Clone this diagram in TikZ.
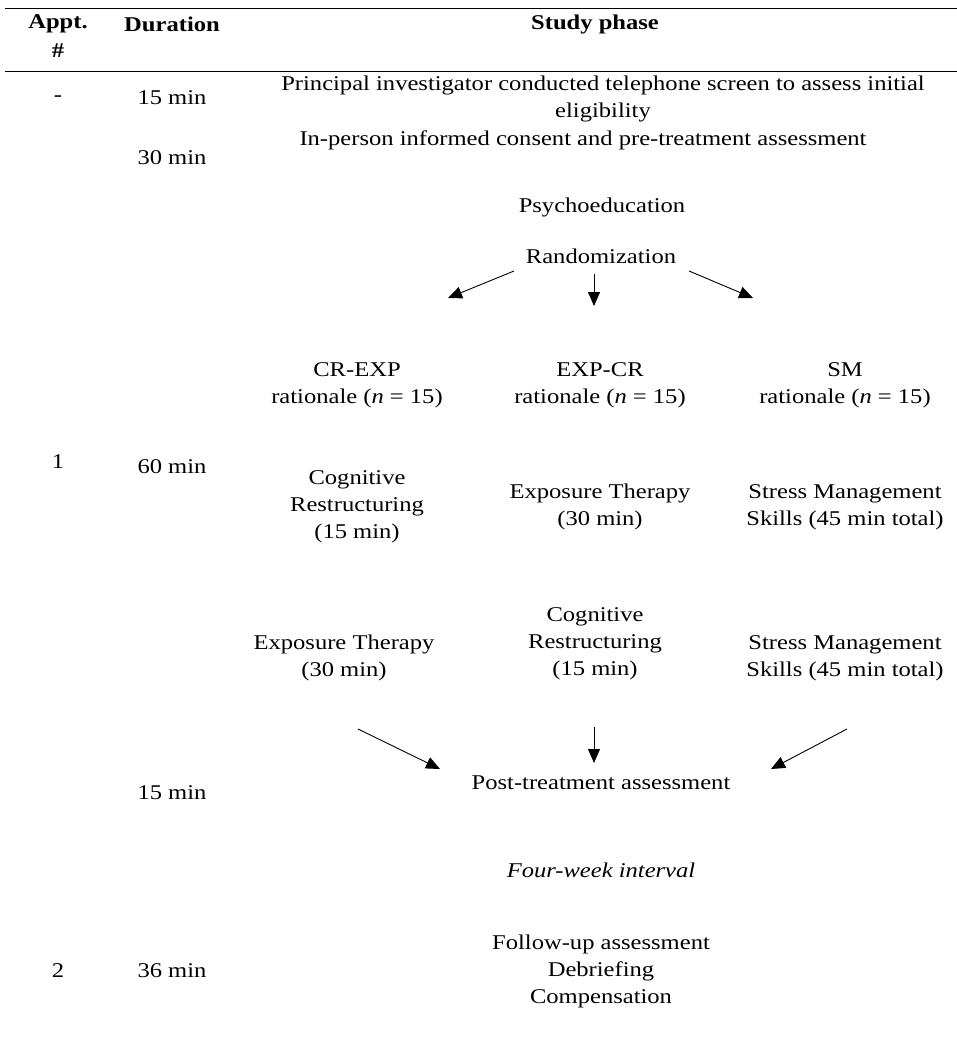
\documentclass[tikz,border=0pt]{standalone}
\usepackage{fontspec}
\setmainfont{Liberation Serif}[FakeStretch=1.17]
\usetikzlibrary{arrows.meta}
\begin{document}
\begin{tikzpicture}[x=1pt,y=-1pt,
  txt/.style={inner sep=0pt,font=\fontsize{21}{27}\selectfont,align=center},
  hd/.style={txt,font=\fontsize{21}{27}\selectfont\bfseries},
  arr/.style={line width=0.9pt,-{Triangle[length=14pt,width=12pt]}},
  rule/.style={line width=0.9pt}]
\useasboundingbox (0,0) rectangle (957,1040);
\draw[rule] (5,8) -- (957,8);
\draw[rule] (5,71) -- (957,71);
\node[hd] (h1) at (58,24) {Appt.};
\node[hd] (h1b) at (58,51) {\#};
\node[hd] (h2) at (172,24) {Duration};
\node[hd] (h3) at (595,24) {Study phase};
\node[txt] (dash) at (58,99) {-};
\node[txt] (d1) at (172,98) {15 min};
\node[txt] (d2) at (172,158) {30 min};
\node[txt] (p1) at (603,99) {Principal investigator conducted telephone screen to assess initial\\eligibility};
\node[txt] (p2) at (583,140) {In-person informed consent and pre-treatment assessment};
\node[txt] (psy) at (602,207) {Psychoeducation};
\node[txt] (rnd) at (601,256) {Randomization};
\coordinate (r1s) at (514,271); \coordinate (r1e) at (448,298);
\coordinate (r2s) at (594,274); \coordinate (r2e) at (594,306);
\coordinate (r3s) at (689,271); \coordinate (r3e) at (753,298);
\draw[arr] (r1s) -- (r1e);
\draw[arr] (r2s) -- (r2e);
\draw[arr] (r3s) -- (r3e);
\node[txt] (g1) at (357,385) {CR-EXP\\rationale (\textit{n} = 15)};
\node[txt] (g2) at (600,385) {EXP-CR\\rationale (\textit{n} = 15)};
\node[txt] (g3) at (845,385) {SM\\rationale (\textit{n} = 15)};
\node[txt] (a1) at (58,462) {1};
\node[txt] (d3) at (172,467) {60 min};
\node[txt] (s11) at (357,507) {Cognitive\\Restructuring\\(15 min)};
\node[txt] (s21) at (600,507) {Exposure Therapy\\(30 min)};
\node[txt] (s31) at (845,507) {Stress Management\\Skills (45 min total)};
\node[txt] (s12) at (344,658) {Exposure Therapy\\(30 min)};
\node[txt] (s22) at (595,644) {Cognitive\\Restructuring\\(15 min)};
\node[txt] (s32) at (845,658) {Stress Management\\Skills (45 min total)};
\coordinate (q1s) at (358,729); \coordinate (q1e) at (440,769);
\coordinate (q2s) at (594,727); \coordinate (q2e) at (594,763);
\coordinate (q3s) at (847,729); \coordinate (q3e) at (771,769);
\draw[arr] (q1s) -- (q1e);
\draw[arr] (q2s) -- (q2e);
\draw[arr] (q3s) -- (q3e);
\node[txt] (post) at (601,783) {Post-treatment assessment};
\node[txt] (d4) at (172,793) {15 min};
\node[txt,font=\fontsize{21}{27}\selectfont\itshape] (int) at (601,870) {Four-week interval};
\node[txt] (fu) at (601,971) {Follow-up assessment\\Debriefing\\Compensation};
\node[txt] (a2) at (58,971) {2};
\node[txt] (d5) at (172,971) {36 min};
\end{tikzpicture}
\end{document}
